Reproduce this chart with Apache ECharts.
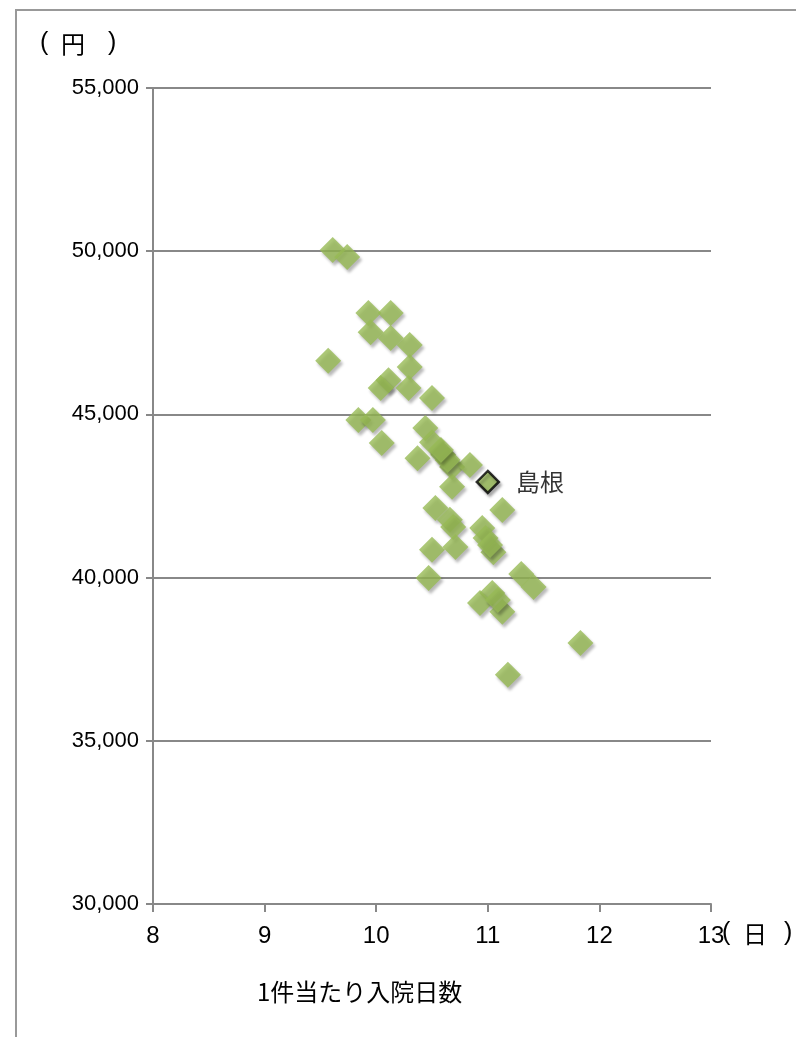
<!DOCTYPE html>
<html>
<head>
<meta charset="utf-8">
<script src="https://cdn.jsdelivr.net/npm/echarts@6/dist/echarts.min.js"></script>
<style>
html, body { margin: 0; padding: 0; background: #fff; }
#chart { width: 796px; height: 1037px; }
</style>
</head>
<body>
<div id="chart"></div>
<script>
// 1件当たり入院日数（日）
var days = [9.61, 9.74, 9.93, 10.13, 9.95, 10.13, 10.30, 9.57, 10.30, 10.11,
	10.04, 10.29, 10.50, 9.84, 9.97, 10.05, 10.44, 10.50, 10.37, 10.60,
	10.68, 10.84, 10.68, 10.53, 10.66, 10.69, 11.13, 10.95, 10.98, 11.05,
	10.50, 10.71, 10.47, 11.30, 11.41, 11.04, 10.93, 11.13, 11.09, 11.83,
	11.18, 10.64, 11.02, 10.58];
// 1件当たり入院医療費（円）
var costs = [50040, 49820, 48110, 48110, 47520, 47340, 47130, 46640, 46450, 46050,
	45810, 45810, 45500, 44830, 44830, 44120, 44580, 44150, 43660, 43760,
	43390, 43450, 42780, 42130, 41770, 41550, 42070, 41520, 41210, 40780,
	40850, 40940, 39990, 40110, 39710, 39530, 39220, 38950, 39310, 38000,
	37020, 43600, 41000, 43910];
// 島根
var shimane = [11.0, 42930];
var xTicks = [8, 13, 1];
var yTicks = [30000, 55000, 5000];

var pts = [];
for (var i = 0; i < days.length; i++) {
	pts.push([days[i], costs[i]]);
}

var myChart = echarts.init(document.getElementById('chart'));
var lineColor = '#888888';
var latin = 'Liberation Sans, sans-serif';
var cjk = 'Noto Sans CJK JP';
var option = {
	animation: false,
	grid: { left: 153, right: 85, top: 88, bottom: 133 },
	xAxis: {
		type: 'value',
		min: xTicks[0], max: xTicks[1], interval: xTicks[2],
		axisLine: { show: true, lineStyle: { color: lineColor, width: 2 } },
		axisTick: { show: true, length: 8, lineStyle: { color: lineColor, width: 2 } },
		splitLine: { show: false },
		axisLabel: { margin: 20, color: '#000', fontSize: 24, fontFamily: latin }
	},
	yAxis: {
		type: 'value',
		min: yTicks[0], max: yTicks[1], interval: yTicks[2],
		axisLine: { show: true, lineStyle: { color: lineColor, width: 2 } },
		axisTick: { show: true, length: 7, lineStyle: { color: lineColor, width: 2 } },
		splitLine: { show: true, lineStyle: { color: lineColor, width: 2 } },
		axisLabel: {
			margin: 14, color: '#000', fontSize: 22, fontFamily: latin,
			formatter: function(v) { return v.toLocaleString('en-US'); }
		}
	},
	graphic: [
		{ type: 'rect', shape: { x: 16, y: 10, width: 800, height: 1040 }, style: { fill: 'none', stroke: '#999', lineWidth: 2 }, silent: true },
		// （円）
		{ type: 'text', left: 40, top: 31, style: { text: '(', fontSize: 25, fill: '#000', fontFamily: latin } },
		{ type: 'text', left: 61, top: 32, style: { text: '円', fontSize: 24, fill: '#000', fontFamily: cjk } },
		{ type: 'text', left: 108, top: 31, style: { text: ')', fontSize: 25, fill: '#000', fontFamily: latin } },
		// （日）
		{ type: 'text', left: 722, top: 921, style: { text: '(', fontSize: 25, fill: '#000', fontFamily: latin } },
		{ type: 'text', left: 743, top: 922, style: { text: '日', fontSize: 24, fill: '#000', fontFamily: cjk } },
		{ type: 'text', left: 784, top: 921, style: { text: ')', fontSize: 25, fill: '#000', fontFamily: latin } },
		{ type: 'text', left: 257, top: 980, style: { text: '1件当たり入院日数', fontSize: 24, fill: '#000', fontFamily: cjk } }
	],
	series: [{
		type: 'scatter',
		symbol: 'diamond',
		symbolSize: 26,
		itemStyle: {
			color: '#97ba55',
			shadowBlur: 3, shadowOffsetX: 2, shadowOffsetY: 3,
			shadowColor: 'rgba(0,0,0,0.35)'
		},
		data: pts
	}, {
		type: 'scatter',
		symbol: 'diamond',
		symbolSize: 22,
		itemStyle: {
			color: '#97ba55', borderColor: '#000', borderWidth: 2.5,
			shadowBlur: 3, shadowOffsetX: 2, shadowOffsetY: 3,
			shadowColor: 'rgba(0,0,0,0.35)'
		},
		label: {
			show: true, position: 'right', distance: 16,
			formatter: '島根', color: '#000', fontSize: 24,
			fontFamily: cjk
		},
		data: [shimane]
	}]
};
myChart.setOption(option);
</script>
</body>
</html>
